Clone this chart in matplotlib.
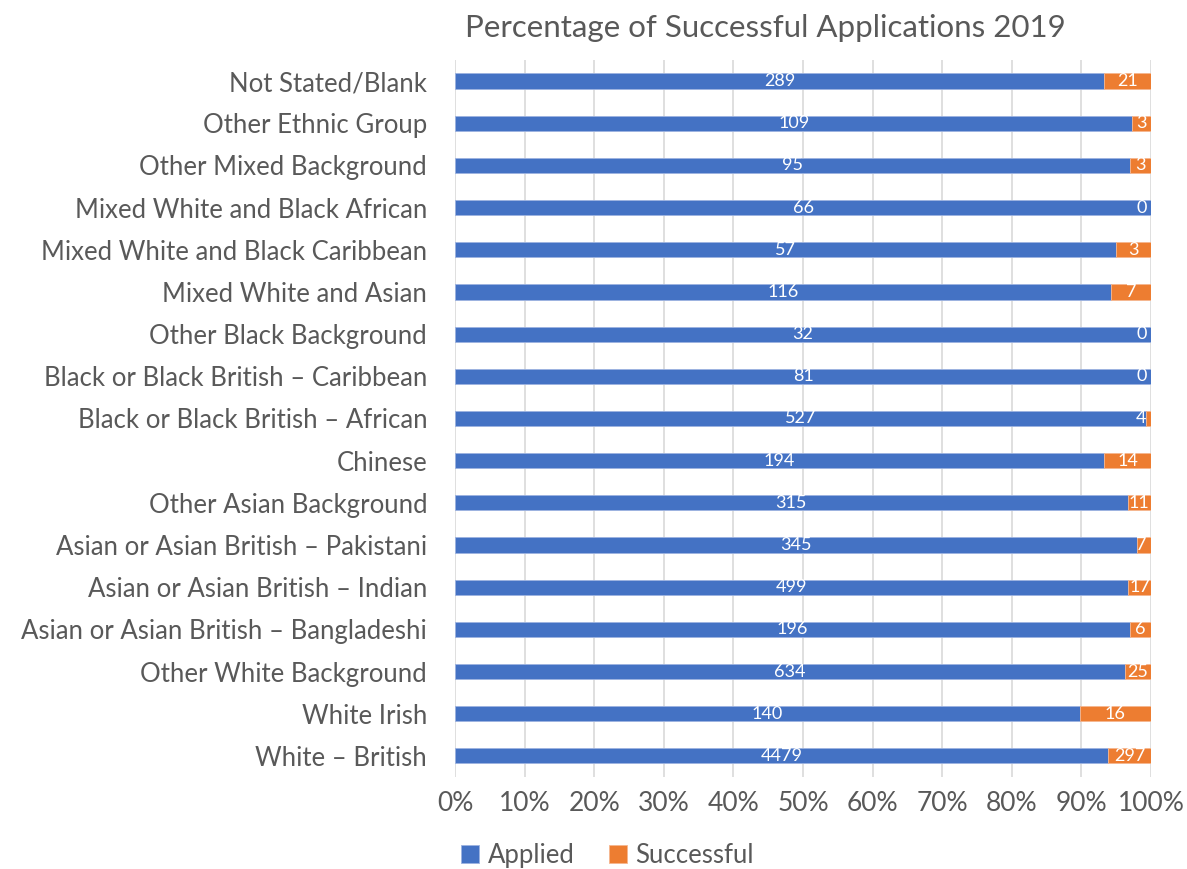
import numpy as np
import matplotlib
matplotlib.use("Agg")
import matplotlib.pyplot as plt
from matplotlib.ticker import PercentFormatter

plt.rcParams['font.family'] = ['Lato', 'DejaVu Sans']

# data (top to bottom as in the chart)
groups = ['Not Stated/Blank', 'Other Ethnic Group', 'Other Mixed Background',
          'Mixed White and Black African', 'Mixed White and Black Caribbean',
          'Mixed White and Asian', 'Other Black Background',
          'Black or Black British – Caribbean', 'Black or Black British – African',
          'Chinese', 'Other Asian Background', 'Asian or Asian British – Pakistani',
          'Asian or Asian British – Indian', 'Asian or Asian British – Bangladeshi',
          'Other White Background', 'White Irish', 'White – British']
applied = [289, 109, 95, 66, 57, 116, 32, 81, 527, 194, 315, 345, 499, 196, 634, 140, 4479]
successful = [21, 3, 3, 0, 3, 7, 0, 0, 4, 14, 11, 7, 17, 6, 25, 16, 297]

blue = '#4472C4'
orange = '#ED7D31'
grey = '#595959'

applied = np.array(applied, dtype=float)
successful = np.array(successful, dtype=float)
total = applied + successful
p_app = applied / total * 100
p_suc = successful / total * 100
y = np.arange(len(groups))

fig = plt.figure(figsize=(11.87, 8.69), dpi=100)
ax = fig.add_axes([0.3833, 0.1059, 0.5864, 0.8251])

h = 0.36
ax.barh(y, p_app, height=h, color=blue, edgecolor='#9DB3E0', linewidth=0.6,
        label='Applied', zorder=3)
ax.barh(y, p_suc, left=p_app, height=h, color=orange, edgecolor='#F5B68F',
        linewidth=0.6, label='Successful', zorder=3)

# value labels in the middle of each segment
for i in range(len(groups)):
    ax.text(p_app[i] / 2, y[i], f'{int(applied[i])}', color='white',
            ha='center', va='center', fontsize=13, zorder=4)
    xs = min(p_app[i] + p_suc[i] / 2, 98.6)
    ax.text(xs, y[i], f'{int(successful[i])}', color='white',
            ha='center', va='center', fontsize=13, zorder=4)

ax.set_xlim(0, 100)
ax.set_ylim(len(groups) - 0.5, -0.5)
ax.set_yticks(y)
ax.set_yticklabels(groups, fontsize=18.5, color=grey)
ax.set_xticks(np.arange(0, 101, 10))
ax.xaxis.set_major_formatter(PercentFormatter(decimals=0))
ax.tick_params(axis='x', labelsize=19, labelcolor=grey, length=0, pad=10)
ax.tick_params(axis='y', length=0, pad=20)
ax.grid(axis='x', color='#D9D9D9', linewidth=1.2, zorder=0)
for s in ax.spines.values():
    s.set_visible(False)

fig.text(0.6445, 0.968, 'Percentage of Successful Applications 2019',
         ha='center', va='center', fontsize=22.5, color=grey)

ax.legend(loc='center left', bbox_to_anchor=(-0.024, -0.109), ncol=2, frameon=False,
          fontsize=18.5, labelcolor=grey, handlelength=0.7, handleheight=0.7,
          handletextpad=0.35, columnspacing=1.3)

fig.savefig('out.png', dpi=100)
